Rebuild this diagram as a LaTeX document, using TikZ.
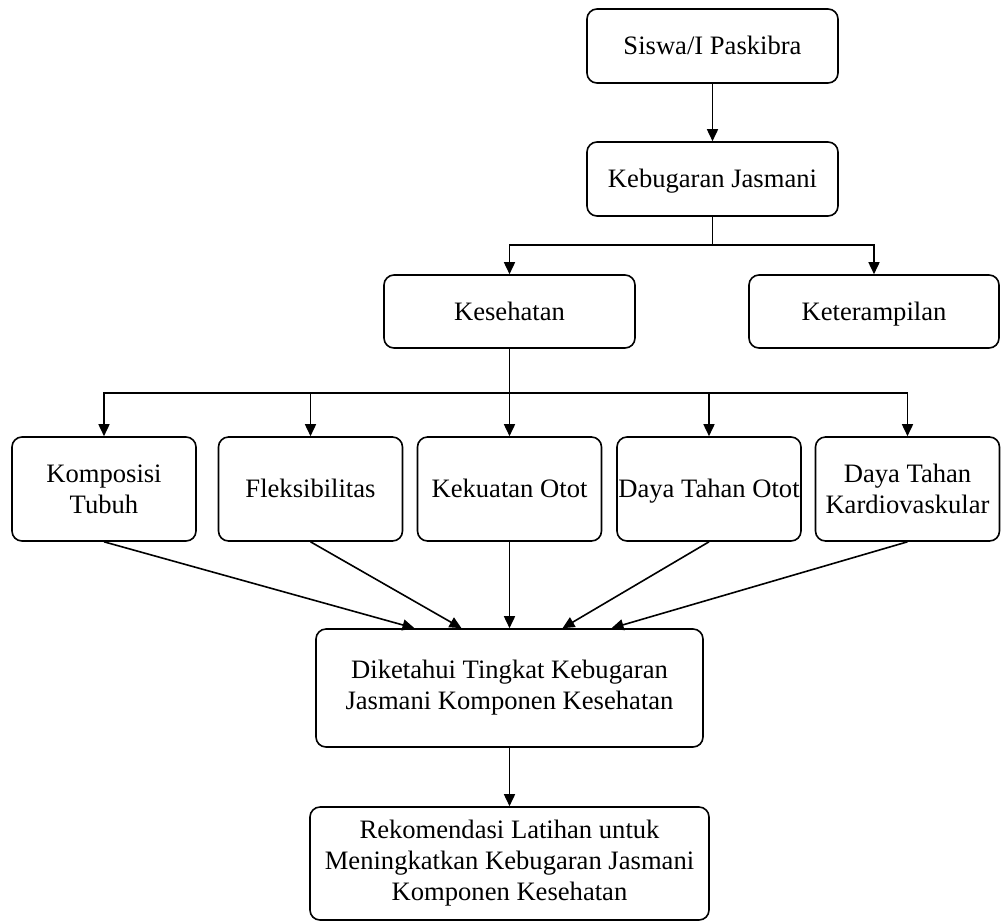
\documentclass[tikz,border=0pt]{standalone}
\usepackage{fontspec}
\setmainfont{Liberation Serif}
\usepackage{tikz}
\usetikzlibrary{shapes,arrows,positioning,arrows.meta}

\begin{document}
\begin{tikzpicture}[x=1pt,y=1pt]
	\tikzstyle{every node}=[font=\fontsize{26.6}{31}\selectfont]
	\tikzstyle{kotak}=[draw, rounded corners=10pt, line width=1.6pt, align=center, inner sep=0pt]
	\tikzstyle{satu}=[text height=22pt, text depth=4.4pt] % single line text, same baseline
	\tikzstyle{panah}=[-{Triangle[length=12pt,width=11pt]}, line width=1.6pt]

	\useasboundingbox (0,0) rectangle (1001,-922);

	% top part
	\node[kotak, satu, minimum width=251pt, minimum height=74pt] (siswa) at (712.5,-46) {Siswa/I Paskibra};
	\node[kotak, satu, minimum width=251pt, minimum height=74pt] (kebugaran) at (712.5,-179) {Kebugaran Jasmani};
	\node[kotak, satu, minimum width=251pt, minimum height=73pt] (kesehatan) at (509.5,-311.5) {Kesehatan};
	\node[kotak, satu, minimum width=250pt, minimum height=73pt] (keterampilan) at (874,-311.5) {Keterampilan};

	% komponen kesehatan
	\node[kotak, minimum width=184pt, minimum height=104pt] (komposisi) at (104,-489) {Komposisi\\Tubuh};
	\node[kotak, satu, minimum width=184pt, minimum height=104pt] (fleksibilitas) at (310.5,-489) {Fleksibilitas};
	\node[kotak, satu, minimum width=184pt, minimum height=104pt] (kekuatan) at (509.5,-489) {Kekuatan Otot};
	\node[kotak, satu, minimum width=184pt, minimum height=104pt] (dayatahan) at (709,-489) {Daya Tahan Otot};
	\node[kotak, minimum width=184pt, minimum height=104pt] (kardio) at (907.5,-489) {Daya Tahan\\Kardiovaskular};

	% hasil
	\node[kotak, minimum width=387pt, minimum height=118pt] (diketahui) at (509.5,-688) {Diketahui Tingkat Kebugaran\\Jasmani Komponen Kesehatan};
	\node[kotak, minimum width=399pt, minimum height=113pt] (rekomendasi) at (509.5,-863.5) {Rekomendasi Latihan untuk\\Meningkatkan Kebugaran Jasmani\\Komponen Kesehatan};

	\coordinate (cabang1) at (712.5,-245);
	\coordinate (cabang2) at (509.5,-393);

	\draw[panah] (siswa) -- (kebugaran);
	\draw[line width=1.6pt] (kebugaran) -- (cabang1);
	\draw[panah] (cabang1) -| (kesehatan);
	\draw[panah] (cabang1) -| (keterampilan);

	\draw[line width=1.6pt] (kesehatan) -- (cabang2);
	\foreach \k in {komposisi,fleksibilitas,kekuatan,dayatahan,kardio}
		\draw[panah] (cabang2) -| (\k);

	\draw[panah] (komposisi.south) -- ([xshift=-95pt]diketahui.north);
	\draw[panah] (fleksibilitas.south) -- ([xshift=-48pt]diketahui.north);
	\draw[panah] (kekuatan.south) -- (diketahui.north);
	\draw[panah] (dayatahan.south) -- ([xshift=53pt]diketahui.north);
	\draw[panah] (kardio.south) -- ([xshift=102pt]diketahui.north);

	\draw[panah] (diketahui) -- (rekomendasi);
\end{tikzpicture}
\end{document}
